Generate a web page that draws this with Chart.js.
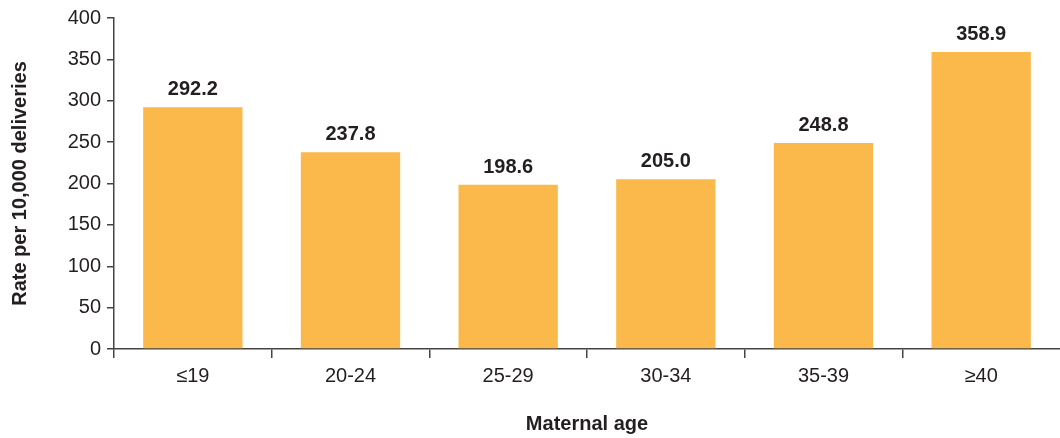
<!DOCTYPE html>
<html>
<head>
<meta charset="utf-8">
<script src="https://cdn.jsdelivr.net/npm/chart.js@4.4.1/dist/chart.umd.min.js"></script>
<style>
  html, body { margin: 0; padding: 0; background: #fff; }
  #wrap { width: 1060px; height: 438px; position: relative; }
</style>
</head>
<body>
<div id="wrap"><canvas id="ageChart"></canvas></div>
<script>
const ageGroups = ["\u226419", "20-24", "25-29", "30-34", "35-39", "\u226540"];
const rates = [292.2, 237.8, 198.6, 205.0, 248.8, 358.9];
const yTicks = [0, 50, 100, 150, 200, 250, 300, 350, 400];

const inkColor = "#231f20";
const axisColor = "#444444";
const barColor = "#fbb84b";
const fontFamily = "'Liberation Sans', Arial, Helvetica, sans-serif";

// writes the rate above each bar
const valueLabels = {
    id: "valueLabels",
    afterDatasetsDraw(chart) {
        const ctx = chart.ctx;
        const meta = chart.getDatasetMeta(0);
        ctx.save();
        ctx.fillStyle = inkColor;
        ctx.font = "bold 20px " + fontFamily;
        ctx.textAlign = "center";
        ctx.textBaseline = "alphabetic";
        meta.data.forEach(function (bar, i) {
            ctx.fillText(rates[i].toFixed(1), bar.x, bar.y - 12);
        });
        ctx.restore();
    }
};

new Chart(document.getElementById("ageChart").getContext("2d"), {
    type: "bar",
    data: {
        labels: ageGroups,
        datasets: [{
            data: rates,
            backgroundColor: barColor,
            barPercentage: 0.63,
            categoryPercentage: 1.0
        }]
    },
    options: {
        responsive: true,
        maintainAspectRatio: false,
        animation: false,
        layout: { padding: { top: 18, right: 0, left: 0, bottom: 0 } },
        plugins: {
            legend: { display: false },
            tooltip: { enabled: false }
        },
        scales: {
            x: {
                afterFit: function (scale) { scale.height = 89; },
                grid: {
                    display: true,
                    drawOnChartArea: false,
                    drawTicks: true,
                    tickLength: 9,
                    // the closing line past the last category has no tick context
                    color: function (c) {
                        return c.tick ? axisColor : "rgba(0,0,0,0)";
                    },
                    lineWidth: 1.5
                },
                border: { display: true, color: axisColor, width: 1.5 },
                ticks: {
                    color: inkColor,
                    font: { family: fontFamily, size: 20 },
                    padding: 6
                },
                title: {
                    display: true,
                    text: "Maternal age",
                    color: inkColor,
                    font: { family: fontFamily, size: 20, weight: "bold" },
                    padding: { top: 0, bottom: 2 }
                }
            },
            y: {
                min: 0,
                max: 400,
                afterFit: function (scale) { scale.width = 114; },
                afterBuildTicks: function (scale) {
                    scale.ticks = yTicks.map(function (v) { return { value: v }; });
                },
                grid: {
                    display: true,
                    drawOnChartArea: false,
                    drawTicks: true,
                    tickLength: 7,
                    color: axisColor,
                    lineWidth: 1.5
                },
                border: { display: true, color: axisColor, width: 1.5 },
                ticks: {
                    color: inkColor,
                    font: { family: fontFamily, size: 20 },
                    padding: 6
                },
                title: {
                    display: true,
                    text: "Rate per 10,000 deliveries",
                    color: inkColor,
                    font: { family: fontFamily, size: 20, weight: "bold" },
                    padding: { top: 8, bottom: 0 }
                }
            }
        }
    },
    plugins: [valueLabels]
});
</script>
</body>
</html>
